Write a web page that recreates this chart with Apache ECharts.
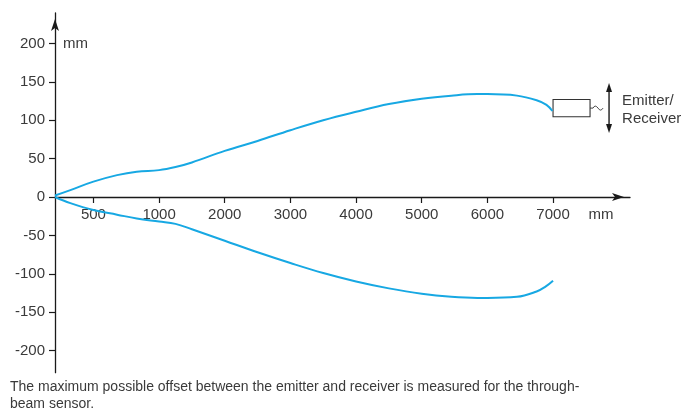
<!DOCTYPE html>
<html><head><meta charset="utf-8">
<script src="https://cdn.jsdelivr.net/npm/echarts@6/dist/echarts.min.js"></script>
<style>html,body{margin:0;padding:0;background:#fff}#c{width:691px;height:414px}</style>
</head><body><div id="c"></div>
<script>
// ---- data (mm) ----
const xTickLabels = [500, 1000, 2000, 3000, 4000, 5000, 6000, 7000];
const yTickLabels = [-200, -150, -100, -50, 0, 50, 100, 150, 200];

const upperX = [0, 200, 500, 680, 830, 1000, 1250, 1500, 2000, 2500, 3000, 3500, 4000, 4500, 5000, 5450, 5850, 6000, 6450, 6750, 6900, 6990];
const upperY = [2, 9, 20, 28.5, 33, 35, 39, 45, 60, 73, 87, 100, 111, 121, 128, 132, 134, 134, 132, 126, 120, 112];

const lowerX = [0, 200, 500, 680, 830, 1000, 1250, 1500, 2000, 2500, 3000, 3500, 4000, 4500, 5000, 5450, 5850, 6000, 6450, 6750, 6880, 7000];
const lowerY = [0, -8, -17, -23, -28, -32, -35, -42, -57, -72, -86, -99, -110, -119, -126, -130, -131.5, -131.5, -130, -123, -117, -109];

// the drawing's x axis is broken: 0-500-1000 are not to scale
const breakMm  = [0, 500, 1000, 7000];
const breakPos = [-585, 0, 1000, 7000];

const captionText = 'The maximum possible offset between the emitter and receiver is measured for the through-\nbeam sensor.';

function interp(v, a, b) {
  for (let i = 0; i < a.length - 1; i++) {
    if (v <= a[i + 1] || i === a.length - 2) {
      return b[i] + (v - a[i]) * (b[i + 1] - b[i]) / (a[i + 1] - a[i]);
    }
  }
}
const mmToPos = v => interp(v, breakMm, breakPos);
const posToMm = v => interp(v, breakPos, breakMm);

const FONT = 'Liberation Sans';
const TXT = '#3a3a3a';
const AX = '#1a1a1a';
const BLUE = '#17a8e3';
const GRID_BOTTOM = 41.3;

const chart = echarts.init(document.getElementById('c'), null, {renderer: 'canvas'});
const option = {
  animation: false,
  grid: {left: 55, right: 61, top: 13, bottom: GRID_BOTTOM, containLabel: false},
  xAxis: {
    type: 'value', min: -585, max: 8172, offset: 0,
    axisLine: {onZero: false, lineStyle: {color: AX, width: 1.3}, symbol: ['none', 'arrow'], symbolSize: [6, 12], symbolOffset: [0, -6]},
    axisTick: {show: true, length: 6, lineStyle: {color: AX, width: 1.2}, customValues: xTickLabels.map(mmToPos)},
    axisLabel: {customValues: xTickLabels.map(mmToPos), formatter: v => String(Math.round(posToMm(v))),
      color: TXT, fontFamily: FONT, fontSize: 15, margin: 10},
    splitLine: {show: false}
  },
  yAxis: {
    type: 'value', min: -228.8, max: 239.6,
    axisLine: {onZero: false, lineStyle: {color: AX, width: 1.3}, symbol: ['none', 'arrow'], symbolSize: [6, 12], symbolOffset: [0, -6]},
    axisTick: {show: true, length: 6, lineStyle: {color: AX, width: 1.2}, customValues: yTickLabels},
    axisLabel: {customValues: yTickLabels, color: TXT, fontFamily: FONT, fontSize: 15, margin: 10},
    splitLine: {show: false}
  },
  series: [
    {type: 'line', name: 'upper', smooth: 0.4, symbol: 'none',
     lineStyle: {color: BLUE, width: 2}, data: upperX.map((x, i) => [mmToPos(x), upperY[i]])},
    {type: 'line', name: 'lower', smooth: 0.4, symbol: 'none',
     lineStyle: {color: BLUE, width: 2}, data: lowerX.map((x, i) => [mmToPos(x), lowerY[i]])}
  ]
};
chart.setOption(option);

const px = (mm, v) => chart.convertToPixel({gridIndex: 0}, [mmToPos(mm), v]);
// lift the x axis (with its labels) onto the zero line
const zeroY = px(0, 0)[1];
chart.setOption({xAxis: {offset: zeroY - (414 - GRID_BOTTOM)}});

const boxTL = px(7000, 127);
const boxBR = px(7000, 104.5);
const boxW = 37;
const midY = (boxTL[1] + boxBR[1]) / 2;
const wx = boxTL[0] + boxW;
const arrX = wx + 19;
const yMm = px(0, 200);
const xMm = px(7000, 0);

chart.setOption({
  graphic: [
    {type: 'rect', shape: {x: boxTL[0], y: boxTL[1], width: boxW, height: boxBR[1] - boxTL[1]},
     style: {fill: '#fff', stroke: '#333', lineWidth: 1.1}, z: 1},
    {type: 'line', shape: {x1: wx, y1: midY, x2: wx + 3, y2: midY}, style: {stroke: '#333', lineWidth: 0.9}},
    {type: 'bezierCurve', shape: {x1: wx + 3, y1: midY, cpx1: wx + 5, cpy1: midY - 4, x2: wx + 8, y2: midY},
     style: {fill: null, stroke: '#333', lineWidth: 0.9}},
    {type: 'bezierCurve', shape: {x1: wx + 8, y1: midY, cpx1: wx + 10.5, cpy1: midY + 4, x2: wx + 13, y2: midY},
     style: {fill: null, stroke: '#333', lineWidth: 0.9}},
    {type: 'line', shape: {x1: arrX, y1: 87, x2: arrX, y2: 129}, style: {stroke: AX, lineWidth: 1.4}},
    {type: 'polygon', shape: {points: [[arrX, 83], [arrX - 3, 92], [arrX + 3, 92]]}, style: {fill: AX}},
    {type: 'polygon', shape: {points: [[arrX, 133], [arrX - 3, 124], [arrX + 3, 124]]}, style: {fill: AX}},
    {type: 'text', x: arrX + 13, y: midY + 1.5, style: {text: 'Emitter/\nReceiver', font: '15px ' + FONT,
      fill: TXT, lineHeight: 18, verticalAlign: 'middle', align: 'left'}},
    {type: 'text', x: yMm[0] + 8, y: yMm[1], style: {text: 'mm', font: '15px ' + FONT, fill: TXT, verticalAlign: 'middle', align: 'left'}},
    {type: 'text', x: xMm[0] + 48, y: xMm[1] + 17.5, style: {text: 'mm', font: '15px ' + FONT, fill: TXT, verticalAlign: 'middle', align: 'center'}},
    {type: 'text', x: 10, y: 378, style: {text: captionText, font: '14px ' + FONT, fill: TXT, lineHeight: 17.5, verticalAlign: 'top', align: 'left'}}
  ]
});
</script>
</body></html>
